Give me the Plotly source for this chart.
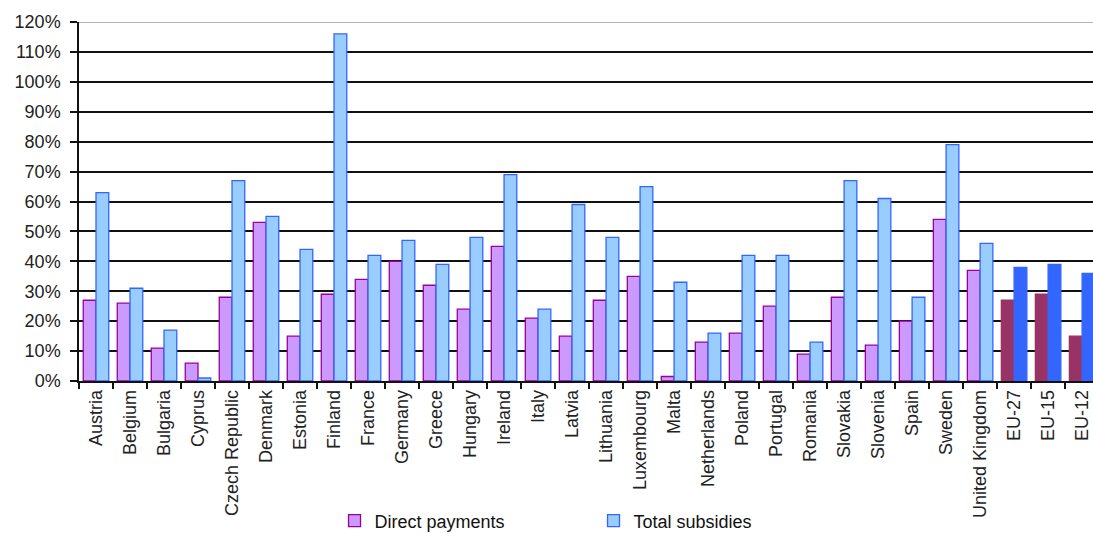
import plotly.graph_objects as go

# Categories: EU member states followed by the EU aggregates
categories = [
    "Austria", "Belgium", "Bulgaria", "Cyprus", "Czech Republic", "Denmark",
    "Estonia", "Finland", "France", "Germany", "Greece", "Hungary", "Ireland",
    "Italy", "Latvia", "Lithuania", "Luxembourg", "Malta", "Netherlands",
    "Poland", "Portugal", "Romania", "Slovakia", "Slovenia", "Spain", "Sweden",
    "United Kingdom", "EU-27", "EU-15", "EU-12",
]

# Share (%) of direct payments
direct_payments = [
    27, 26, 11, 6, 28, 53, 15, 29, 34, 40, 32, 24, 45, 21, 15, 27, 35, 1.5,
    13, 16, 25, 9, 28, 12, 20, 54, 37, 27, 29, 15,
]

# Share (%) of total subsidies
total_subsidies = [
    63, 31, 17, 1, 67, 55, 44, 116, 42, 47, 39, 48, 69, 24, 59, 48, 65, 33,
    16, 42, 42, 13, 67, 61, 28, 79, 46, 38, 39, 36,
]

y_ticks = list(range(0, 121, 10))
y_tick_labels = [f"{v}%" for v in y_ticks]

aggregates = {"EU-27", "EU-15", "EU-12"}

dp_fill = ["#993366" if c in aggregates else "#CC99FF" for c in categories]
dp_line = ["#993366" if c in aggregates else "#990099" for c in categories]
ts_fill = ["#3366FF" if c in aggregates else "#99CCFF" for c in categories]
ts_line = ["#3366FF" for c in categories]

FONT = "Liberation Sans, Arial, sans-serif"

fig = go.Figure()
fig.add_trace(go.Bar(
    x=categories, y=direct_payments, name="Direct payments",
    marker=dict(color=dp_fill, line=dict(color=dp_line, width=1.3)),
))
fig.add_trace(go.Bar(
    x=categories, y=total_subsidies, name="Total subsidies",
    marker=dict(color=ts_fill, line=dict(color=ts_line, width=1.3)),
))

# light frame line along the top of the value range
fig.add_shape(type="line", xref="paper", yref="y", x0=0, x1=1, y0=120, y1=120,
              line=dict(color="#9a9a9a", width=1.5), layer="above")

fig.update_layout(
    width=1093, height=533,
    margin=dict(l=79, r=0, t=22, b=152, autoexpand=False),
    paper_bgcolor="white", plot_bgcolor="white",
    barmode="group", bargap=0.25, bargroupgap=0,
    font=dict(family=FONT, size=17, color="#222"),
    showlegend=True,
    legend=dict(
        orientation="h", x=0.252, xanchor="left", y=-0.39, yanchor="middle",
        font=dict(family=FONT, size=18, color="#111"),
        entrywidth=214, entrywidthmode="pixels", itemwidth=30,
        bgcolor="rgba(0,0,0,0)",
    ),
    xaxis=dict(
        type="category", range=[-0.5, 29.32],
        tickangle=-90, ticks="outside", tickson="boundaries", ticklen=6,
        tickwidth=1.5, tickcolor="#111",
        showline=True, linecolor="#111", linewidth=1.5,
        showgrid=False, tickfont=dict(family=FONT, size=18, color="#222"),
    ),
    yaxis=dict(
        range=[0, 120], tickmode="array", tickvals=y_ticks, ticktext=y_tick_labels,
        ticks="outside", ticklen=7, tickwidth=1.5, tickcolor="#111",
        ticklabelstandoff=6,
        showline=True, linecolor="#111", linewidth=1.5,
        showgrid=True, gridcolor="#111", gridwidth=1.5,
        zeroline=False, tickfont=dict(family=FONT, size=18, color="#222"),
    ),
)

fig.write_html("out.html")
